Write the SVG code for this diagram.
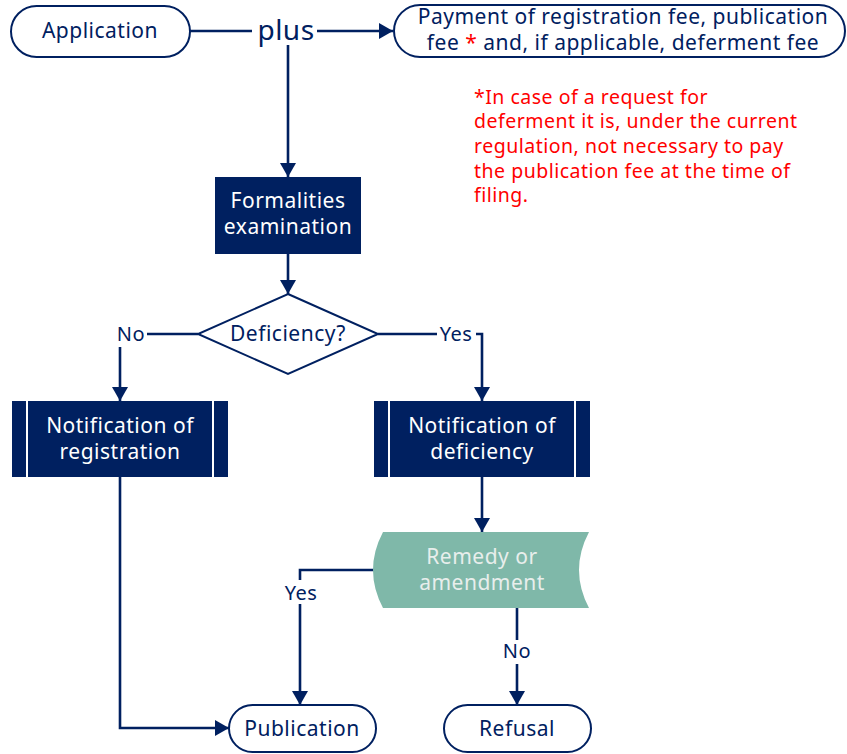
<svg xmlns="http://www.w3.org/2000/svg" width="847" height="754" viewBox="0 0 847 754">
<style>
.t{font-family:"Noto Sans","Open Sans",sans-serif;font-size:21px;letter-spacing:0.5px;text-anchor:middle}
.dk{fill:#002060}
.wt{fill:#ffffff}
.pill{fill:#ffffff;stroke:#002060;stroke-width:2}
.box{fill:#002060}
.c{fill:none;stroke:#002060;stroke-width:2.6}
.red{font-family:"Noto Sans","Open Sans",sans-serif;font-size:19.5px;letter-spacing:0.5px;fill:#ff0000}
</style>
<defs>
<marker id="ah" markerUnits="userSpaceOnUse" markerWidth="16" markerHeight="16" refX="14" refY="8" orient="auto">
<path d="M0,0 L14,8 L0,16 z" fill="#002060"/>
</marker>
</defs>
<rect width="847" height="754" fill="#ffffff"/>
<g id="connectors">
<path class="c" d="M190,31 H252"/>
<path class="c" d="M317,31 H393" marker-end="url(#ah)"/>
<path class="c" d="M288,45 V177" marker-end="url(#ah)"/>
<path class="c" d="M288,254 V294" marker-end="url(#ah)"/>
<path class="c" d="M198,334 H147"/>
<path class="c" d="M120,347 V401" marker-end="url(#ah)"/>
<path class="c" d="M378,334 H437"/>
<path class="c" d="M476,334 H482 V401" marker-end="url(#ah)"/>
<path class="c" d="M482,477 V532" marker-end="url(#ah)"/>
<path class="c" d="M375,570 H300 V705" marker-end="url(#ah)"/>
<path class="c" d="M517,608 V705" marker-end="url(#ah)"/>
<path class="c" d="M120,477 V728 H229" marker-end="url(#ah)"/>
<rect x="281" y="580" width="40" height="24" fill="#ffffff"/>
<rect x="500" y="640" width="34" height="24" fill="#ffffff"/>
<text class="t dk" x="286" y="40" style="font-size:28px">plus</text>
<text class="t dk" x="131" y="341" style="font-size:20px">No</text>
<text class="t dk" x="456" y="341" style="font-size:20px">Yes</text>
<text class="t dk" x="301" y="600" style="font-size:20px">Yes</text>
<text class="t dk" x="517" y="658" style="font-size:20px">No</text>
</g>
<g id="application">
<rect class="pill" x="11" y="6" width="179" height="51" rx="25.5"/>
<text class="t dk" x="100" y="38">Application</text>
</g>
<g id="payment">
<rect class="pill" x="394" y="5" width="451" height="52" rx="26"/>
<text class="t dk" x="623" y="24">Payment of registration fee, publication</text>
<text class="t dk" x="623" y="50">fee <tspan fill="#ff0000">*</tspan> and, if applicable, deferment fee</text>
</g>
<g id="note">
<text class="red" x="474" y="104">*In case of a request for</text>
<text class="red" x="474" y="128">deferment it is, under the current</text>
<text class="red" x="474" y="153">regulation, not necessary to pay</text>
<text class="red" x="474" y="178">the publication fee at the time of</text>
<text class="red" x="474" y="202">filing.</text>
</g>
<g id="formalities">
<rect class="box" x="215" y="177" width="146" height="77"/>
<text class="t wt" x="288" y="208">Formalities</text>
<text class="t wt" x="288" y="234">examination</text>
</g>
<g id="deficiency">
<polygon points="288,294 378,334 288,374 198,334" fill="#ffffff" stroke="#002060" stroke-width="2"/>
<text class="t dk" x="288" y="341">Deficiency?</text>
</g>
<g id="notif-registration">
<rect class="box" x="12" y="401" width="216" height="76"/>
<line x1="27" y1="401" x2="27" y2="477" stroke="#ffffff" stroke-width="2"/>
<line x1="213" y1="401" x2="213" y2="477" stroke="#ffffff" stroke-width="2"/>
<text class="t wt" x="120" y="433">Notification of</text>
<text class="t wt" x="120" y="459">registration</text>
</g>
<g id="notif-deficiency">
<rect class="box" x="374" y="401" width="216" height="76"/>
<line x1="389" y1="401" x2="389" y2="477" stroke="#ffffff" stroke-width="2"/>
<line x1="575" y1="401" x2="575" y2="477" stroke="#ffffff" stroke-width="2"/>
<text class="t wt" x="482" y="433">Notification of</text>
<text class="t wt" x="482" y="459">deficiency</text>
</g>
<g id="remedy">
<path d="M383,532 H589 Q569,570 589,608 H383 Q363,570 383,532 Z" fill="#7fb8a9"/>
<text class="t" x="482" y="564" fill="#e8eeec">Remedy or</text>
<text class="t" x="482" y="590" fill="#e8eeec">amendment</text>
</g>
<g id="publication">
<rect class="pill" x="229" y="705" width="147" height="47" rx="23.5"/>
<text class="t dk" x="302" y="736">Publication</text>
</g>
<g id="refusal">
<rect class="pill" x="444" y="705" width="147" height="47" rx="23.5"/>
<text class="t dk" x="517" y="736">Refusal</text>
</g>
</svg>
